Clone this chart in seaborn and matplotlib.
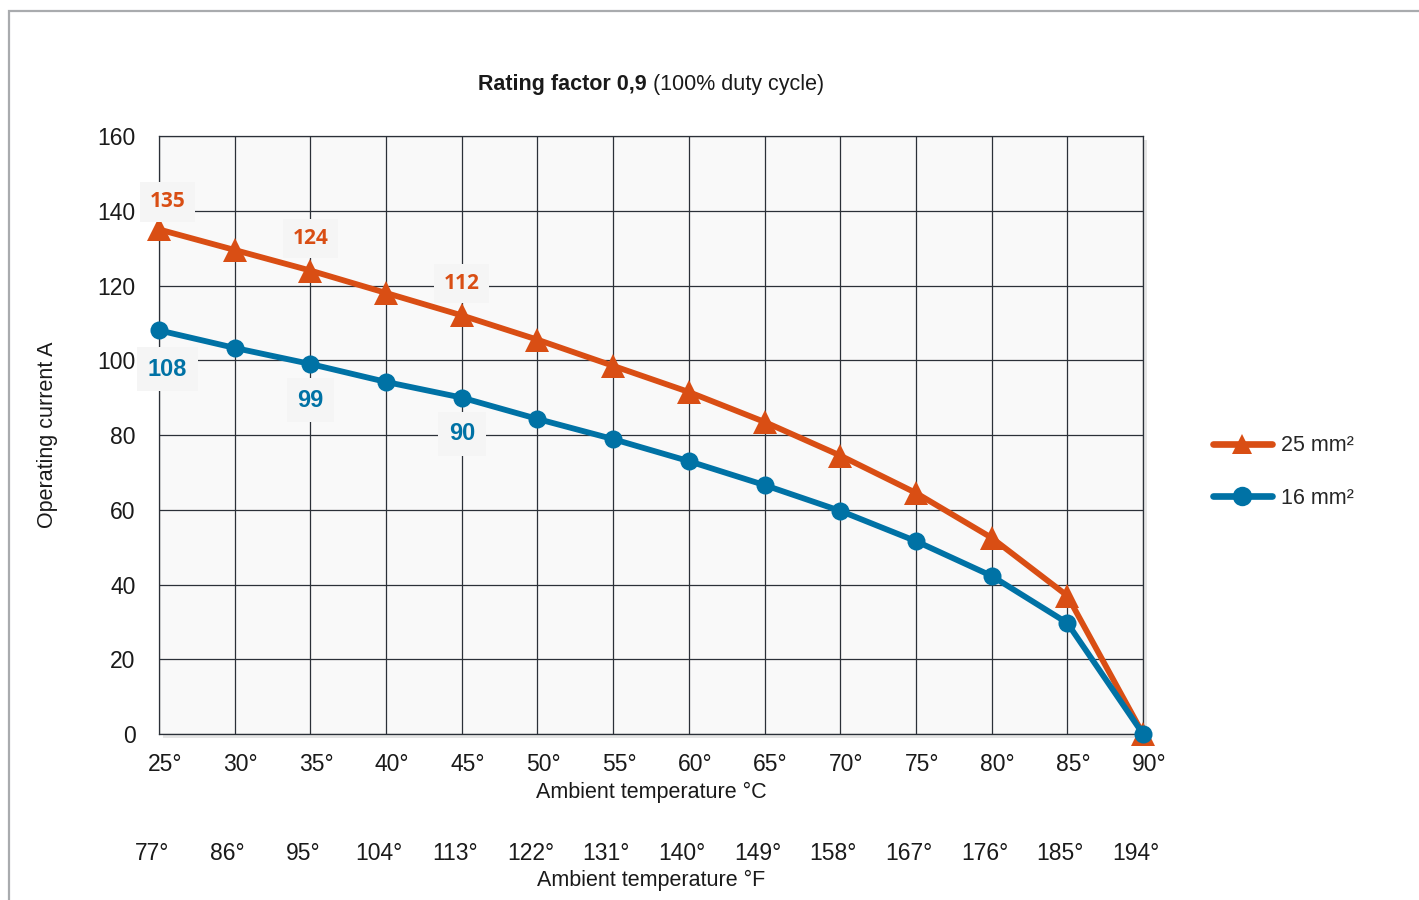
import matplotlib
matplotlib.use("Agg")
import matplotlib.pyplot as plt
import matplotlib.patheffects as pe
from matplotlib.lines import Line2D
from matplotlib.patches import Rectangle
from matplotlib.transforms import ScaledTranslation
import seaborn as sns
import pandas as pd

# data
temp_c = [25, 30, 35, 40, 45, 50, 55, 60, 65, 70, 75, 80, 85, 90]
temp_f_labels = ["77°", "86°", "95°", "104°", "113°", "122°", "131°",
                 "140°", "149°", "158°", "167°", "176°", "185°", "194°"]
current_25 = [135, 129.5, 124, 118, 112, 105.5, 98.5, 91.5, 83.5, 74.5, 64.5, 52.5, 37, 0]
current_16 = [108, 103.3, 99, 94.2, 90, 84.3, 78.9, 73, 66.6, 59.7, 51.6, 42.3, 29.7, 0]
labelled_idx = [0, 2, 4]
y_ticks = [0, 20, 40, 60, 80, 100, 120, 140, 160]

orange = "#D94E14"
blue = "#0072A5"
grid_col = "#2B3038"
text_col = "#1A1A1A"

sns.set_style("white")
plt.rcParams["font.family"] = ["Liberation Sans", "DejaVu Sans"]

df = pd.DataFrame({"temp": temp_c, "c25": current_25, "c16": current_16})

fig = plt.figure(figsize=(14.19, 9), dpi=100)
ax = fig.add_axes([159 / 1419, 1 - 734 / 900, 984 / 1419, 598 / 900])

# outer grey frame
fig.patches.append(Rectangle((9 / 1419, -0.1), 1.2, 1 - 11 / 900 + 0.1,
                             transform=fig.transFigure, fill=False,
                             edgecolor="#A9ABAE", linewidth=1.6))

ax.set_facecolor("#F9F9F9")
ax.patch.set_path_effects([pe.SimplePatchShadow(offset=(3, -3), shadow_rgbFace="#999999", alpha=0.25),
                           pe.Normal()])

sns.lineplot(data=df, x="temp", y="c25", ax=ax, color=orange, linewidth=4.2,
             marker="^", markersize=17, markeredgewidth=0, clip_on=False, zorder=4)
sns.lineplot(data=df, x="temp", y="c16", ax=ax, color=blue, linewidth=4.2,
             marker="o", markersize=13, markeredgewidth=0, clip_on=False, zorder=5)

ax.set_xlim(25, 90)
ax.set_ylim(0, 160)
ax.set_xticks(temp_c)
ax.set_xticklabels([f"{t}°" for t in temp_c])
ax.set_yticks(y_ticks)
ax.grid(True, color=grid_col, linewidth=0.9)
for s in ax.spines.values():
    s.set_color(grid_col)
    s.set_linewidth(0.9)
ax.tick_params(axis="both", direction="out", length=6, width=0.9, color=grid_col,
               labelsize=16.5, labelcolor=text_col)
ax.tick_params(axis="x", pad=8)
ax.tick_params(axis="y", pad=11)
for lab in ax.get_xticklabels():
    lab.set_transform(lab.get_transform() + ScaledTranslation(6 / 100, 0, fig.dpi_scale_trans))

ax.set_xlabel("Ambient temperature °C", fontsize=15.5, color=text_col)
ax.xaxis.set_label_coords(0.5, (734 - 792) / 598)
ax.xaxis.label.set_va("center")
ax.set_ylabel("Operating current A", fontsize=15.5, color=text_col)
ax.yaxis.set_label_coords((48 - 159) / 984, 0.5)
ax.yaxis.label.set_va("center")

# Fahrenheit scale
sec = ax.secondary_xaxis((734 - 853) / 598)
sec.set_xticks(temp_c)
sec.set_xticklabels(temp_f_labels)
sec.spines["bottom"].set_visible(False)
sec.tick_params(axis="x", length=0, pad=0, labelsize=16.5, labelcolor=text_col)
for lab in sec.get_xticklabels():
    lab.set_va("center")
    lab.set_transform(lab.get_transform() + ScaledTranslation(-7 / 100, 0, fig.dpi_scale_trans))
ax.text(0.5, (734 - 880) / 598, "Ambient temperature °F", transform=ax.transAxes,
        ha="center", va="center", fontsize=15.5, color=text_col)

# value labels
box = dict(boxstyle="square,pad=0.45", facecolor="#F5F5F5", edgecolor="none")
for i in labelled_idx:
    ax.annotate(f"{current_25[i]:g}", (temp_c[i], current_25[i]),
                xytext=(6 if i == 0 else 0, 20 if i == 0 else 23),
                textcoords="offset points", ha="center", va="center", fontsize=15,
                fontweight="bold", family=["Open Sans", "DejaVu Sans"], color=orange, bbox=box, zorder=6)
    ax.annotate(f"{current_16[i]:g}", (temp_c[i], current_16[i]),
                xytext=(6 if i == 0 else 0, -28 if i == 0 else -26),
                textcoords="offset points", ha="center", va="center", fontsize=17,
                fontweight="bold", color=blue, bbox=box, zorder=6)

# title: bold part + regular part
t1 = ax.text((647 - 159) / 984, (734 - 84) / 598, "Rating factor 0,9", transform=ax.transAxes,
             ha="right", va="center", fontsize=15.5, fontweight="bold", color=text_col)
ax.annotate(" (100% duty cycle)", xy=(1, 0), xycoords=t1, ha="left", va="bottom",
            fontsize=15.5, color=text_col)

handles = [Line2D([], [], color=orange, lw=4.8, marker="^", ms=15, mew=0, solid_capstyle="round"),
           Line2D([], [], color=blue, lw=4.8, marker="o", ms=14, mew=0, solid_capstyle="round")]
fig.legend(handles, ["25 mm²", "16 mm²"], loc="center left",
           bbox_to_anchor=(1194 / 1419, 1 - 472 / 900), frameon=False, fontsize=15.5,
           handlelength=2.7, labelspacing=1.45, handletextpad=0.45)

fig.savefig("out.png", dpi=100)
